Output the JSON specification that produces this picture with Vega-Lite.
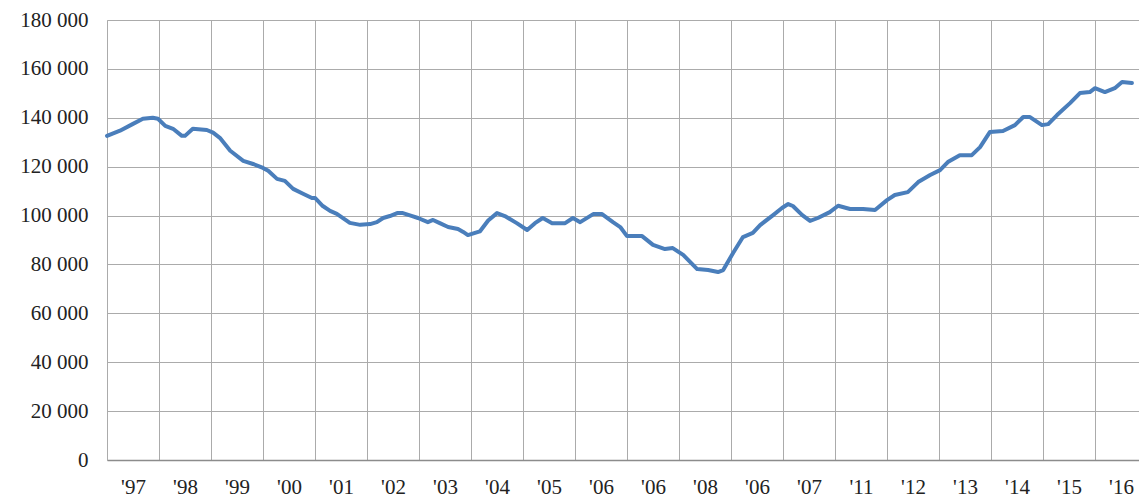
{
  "$schema": "https://vega.github.io/schema/vega-lite/v6.json",
  "autosize": {"type": "none"},
  "width": 1032,
  "height": 440,
  "padding": {"left": 107, "top": 20, "right": 0, "bottom": 41},
  "background": "white",
  "config": {"view": {"stroke": null}},
  "data": {"values": [
    {"t": 0.00, "value": 132600}, {"t": 0.25, "value": 134700}, {"t": 0.50, "value": 137500}, {"t": 0.69, "value": 139600},
    {"t": 0.88, "value": 140000}, {"t": 0.98, "value": 139600}, {"t": 1.12, "value": 136700}, {"t": 1.27, "value": 135500},
    {"t": 1.44, "value": 132600}, {"t": 1.50, "value": 132600}, {"t": 1.65, "value": 135500}, {"t": 1.92, "value": 135000},
    {"t": 2.04, "value": 133900}, {"t": 2.17, "value": 131800}, {"t": 2.37, "value": 126500}, {"t": 2.62, "value": 122400},
    {"t": 2.81, "value": 121100}, {"t": 3.00, "value": 119500}, {"t": 3.10, "value": 118300}, {"t": 3.27, "value": 115000},
    {"t": 3.42, "value": 114200}, {"t": 3.58, "value": 110900}, {"t": 3.77, "value": 108900}, {"t": 3.94, "value": 107200},
    {"t": 4.00, "value": 107200}, {"t": 4.15, "value": 103900}, {"t": 4.29, "value": 101900}, {"t": 4.42, "value": 100700},
    {"t": 4.67, "value": 97000}, {"t": 4.87, "value": 96200}, {"t": 5.06, "value": 96500}, {"t": 5.19, "value": 97300},
    {"t": 5.31, "value": 99000}, {"t": 5.44, "value": 99800}, {"t": 5.58, "value": 101000}, {"t": 5.69, "value": 101000},
    {"t": 5.87, "value": 99800}, {"t": 5.98, "value": 99000}, {"t": 6.17, "value": 97300}, {"t": 6.27, "value": 98200},
    {"t": 6.40, "value": 96900}, {"t": 6.56, "value": 95300}, {"t": 6.75, "value": 94500}, {"t": 6.85, "value": 93300},
    {"t": 6.94, "value": 92000}, {"t": 7.17, "value": 93500}, {"t": 7.33, "value": 98000}, {"t": 7.50, "value": 101000},
    {"t": 7.65, "value": 99800}, {"t": 7.88, "value": 96900}, {"t": 8.08, "value": 94100}, {"t": 8.23, "value": 96900},
    {"t": 8.38, "value": 99000}, {"t": 8.56, "value": 96900}, {"t": 8.81, "value": 96900}, {"t": 8.96, "value": 99000},
    {"t": 9.10, "value": 97300}, {"t": 9.35, "value": 100600}, {"t": 9.52, "value": 100600}, {"t": 9.73, "value": 97300},
    {"t": 9.87, "value": 95300}, {"t": 10.00, "value": 91600}, {"t": 10.29, "value": 91600}, {"t": 10.50, "value": 88000},
    {"t": 10.73, "value": 86300}, {"t": 10.88, "value": 86700}, {"t": 11.08, "value": 83900}, {"t": 11.35, "value": 78100},
    {"t": 11.56, "value": 77700}, {"t": 11.75, "value": 76900}, {"t": 11.85, "value": 77700}, {"t": 12.04, "value": 84700},
    {"t": 12.23, "value": 91200}, {"t": 12.42, "value": 92900}, {"t": 12.56, "value": 96100}, {"t": 12.81, "value": 100200},
    {"t": 12.98, "value": 103100}, {"t": 13.10, "value": 104700}, {"t": 13.19, "value": 103900}, {"t": 13.37, "value": 100200},
    {"t": 13.52, "value": 97800}, {"t": 13.67, "value": 99000}, {"t": 13.90, "value": 101400}, {"t": 14.06, "value": 104000},
    {"t": 14.29, "value": 102700}, {"t": 14.54, "value": 102700}, {"t": 14.77, "value": 102300}, {"t": 15.00, "value": 106300},
    {"t": 15.15, "value": 108400}, {"t": 15.40, "value": 109600}, {"t": 15.60, "value": 113700}, {"t": 15.83, "value": 116600},
    {"t": 16.02, "value": 118600}, {"t": 16.17, "value": 121900}, {"t": 16.40, "value": 124700}, {"t": 16.63, "value": 124700},
    {"t": 16.79, "value": 128000}, {"t": 16.98, "value": 134200}, {"t": 17.23, "value": 134600}, {"t": 17.46, "value": 137000},
    {"t": 17.62, "value": 140300}, {"t": 17.75, "value": 140300}, {"t": 17.98, "value": 137000}, {"t": 18.10, "value": 137400},
    {"t": 18.27, "value": 141100}, {"t": 18.52, "value": 146000}, {"t": 18.71, "value": 150100}, {"t": 18.90, "value": 150500},
    {"t": 19.00, "value": 152100}, {"t": 19.19, "value": 150500}, {"t": 19.38, "value": 152100}, {"t": 19.52, "value": 154600},
    {"t": 19.71, "value": 154200}
  ]},
  "mark": {"type": "line", "color": "#4A7EBB", "strokeWidth": 4, "strokeJoin": "round", "strokeCap": "round", "interpolate": "linear"},
  "encoding": {
    "x": {
      "field": "t", "type": "quantitative",
      "scale": {"domain": [0, 19.846], "nice": false, "zero": false},
      "axis": {
        "title": null,
        "values": [0,1,2,3,4,5,6,7,8,9,10,11,12,13,14,15,16,17,18,19],
        "labelExpr": "[\"'97\",\"'98\",\"'99\",\"'00\",\"'01\",\"'02\",\"'03\",\"'04\",\"'05\",\"'06\",\"'06\",\"'08\",\"'06\",\"'07\",\"'11\",\"'12\",\"'13\",\"'14\",\"'15\",\"'16\"][datum.value]",
        "labelOffset": 26,
        "labelAlign": "center",
        "labelBaseline": "top",
        "labelPadding": 16,
        "labelFlush": false,
        "labelOverlap": false,
        "labelFont": "Liberation Serif",
        "labelFontSize": 21,
        "labelColor": "#222222",
        "ticks": false,
        "grid": true,
        "gridColor": "#ABABAB",
        "gridWidth": 1,
        "domain": true,
        "domainColor": "#8C8C8C",
        "domainWidth": 1.5
      }
    },
    "y": {
      "field": "value", "type": "quantitative",
      "scale": {"domain": [0, 180000], "nice": false, "zero": true},
      "axis": {
        "title": null,
        "values": [0,20000,40000,60000,80000,100000,120000,140000,160000,180000],
        "labelExpr": "replace(format(datum.value, ','), ',', ' ')",
        "labelFont": "Liberation Serif",
        "labelFontSize": 21,
        "labelColor": "#222222",
        "labelPadding": 19,
        "ticks": false,
        "grid": true,
        "gridColor": "#ABABAB",
        "gridWidth": 1,
        "domain": true,
        "domainColor": "#ABABAB",
        "domainWidth": 1
      }
    }
  }
}
